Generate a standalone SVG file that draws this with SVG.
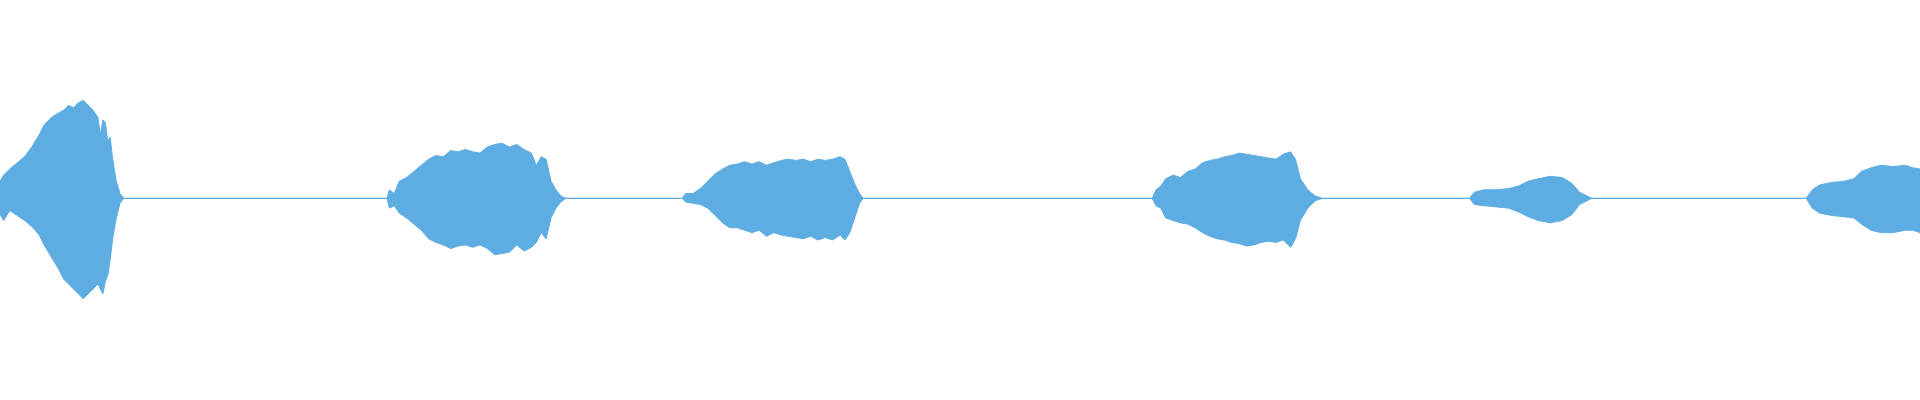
<svg xmlns="http://www.w3.org/2000/svg" width="1920" height="400" viewBox="0 0 1920 400">
<style>.w{fill:#5dade2;stroke:#5dade2;stroke-width:0.8;stroke-linejoin:miter}</style>
<rect width="1920" height="400" fill="#fff"/>
<g transform="scale(1.2245)">
<line x1="0" y1="162" x2="1568" y2="162" stroke="#5dade2" stroke-width="1"/>
<path class="w" d="M0,162 L0,148 L3,143 L8,138 L14,133 L20,128 L26,120 L32,110 L36,102 L42,96 L48,92 L52,90 L56,86 L60,88 L64,84 L68,82 L72,86 L76,90 L80,96 L82,110 L84,98 L86,100 L88,115 L90,112 L92,130 L95,148 L98,158 L101,162 L98,166 L95,178 L92,195 L90,212 L88,225 L86,230 L84,240 L80,232 L76,236 L72,240 L68,244 L64,240 L60,236 L56,232 L52,228 L48,220 L42,210 L36,200 L32,192 L26,185 L20,180 L14,176 L8,172 L3,180 L0,175 Z"/>
<path class="w" d="M316,162 L318,155 L322,158 L326,148 L332,145 L338,140 L344,135 L350,130 L356,127 L362,128 L368,123 L374,124 L380,122 L386,124 L392,125 L398,120 L404,118 L410,117 L416,120 L422,118 L428,122 L434,125 L438,135 L442,128 L446,130 L450,148 L454,155 L458,160 L462,162 L458,165 L454,170 L450,178 L446,195 L442,190 L438,198 L434,202 L428,205 L422,200 L416,206 L410,207 L404,208 L398,203 L392,200 L386,202 L380,200 L374,201 L368,203 L362,200 L356,198 L350,195 L344,188 L338,183 L332,178 L326,174 L322,168 L318,170 Z"/>
<path class="w" d="M557,162 L560,158 L566,158 L572,154 L578,148 L584,142 L590,138 L596,135 L602,134 L608,132 L614,134 L620,132 L626,135 L632,133 L638,131 L644,130 L650,131 L656,130 L662,132 L668,130 L674,131 L680,130 L686,128 L690,130 L694,140 L698,150 L702,158 L705,162 L702,166 L698,178 L694,190 L690,196 L686,192 L680,196 L674,194 L668,196 L662,193 L656,195 L650,194 L644,193 L638,192 L632,190 L626,193 L620,188 L614,190 L608,188 L602,186 L596,186 L590,182 L584,176 L578,170 L572,167 L566,166 L560,165 Z"/>
<path class="w" d="M941,162 L944,155 L948,152 L952,146 L958,143 L964,145 L970,140 L976,138 L982,133 L988,131 L994,130 L1000,128 L1006,127 L1012,125 L1018,126 L1024,127 L1030,128 L1036,129 L1042,130 L1048,126 L1054,124 L1058,130 L1062,146 L1068,155 L1074,160 L1080,162 L1074,164 L1068,170 L1062,180 L1058,195 L1054,202 L1048,196 L1042,198 L1036,197 L1030,198 L1024,200 L1018,201 L1012,199 L1006,198 L1000,196 L994,195 L988,193 L982,190 L976,186 L970,183 L964,182 L958,180 L952,178 L948,170 L944,168 Z"/>
<path class="w" d="M1200,162 L1204,157 L1212,155 L1222,155 L1232,154 L1240,152 L1248,148 L1256,146 L1266,144 L1276,145 L1284,150 L1290,157 L1300,162 L1290,167 L1284,175 L1276,180 L1266,182 L1256,180 L1248,177 L1240,173 L1232,170 L1222,169 L1212,168 L1204,167 Z"/>
<path class="w" d="M1475,162 L1480,155 L1486,151 L1496,149 L1506,148 L1514,146 L1520,140 L1528,137 L1536,135 L1546,136 L1556,135 L1562,137 L1568,138 L1568,190 L1562,188 L1556,188 L1546,190 L1536,190 L1528,188 L1520,183 L1514,178 L1506,177 L1496,176 L1486,174 L1480,170 Z"/>
</g>
</svg>
